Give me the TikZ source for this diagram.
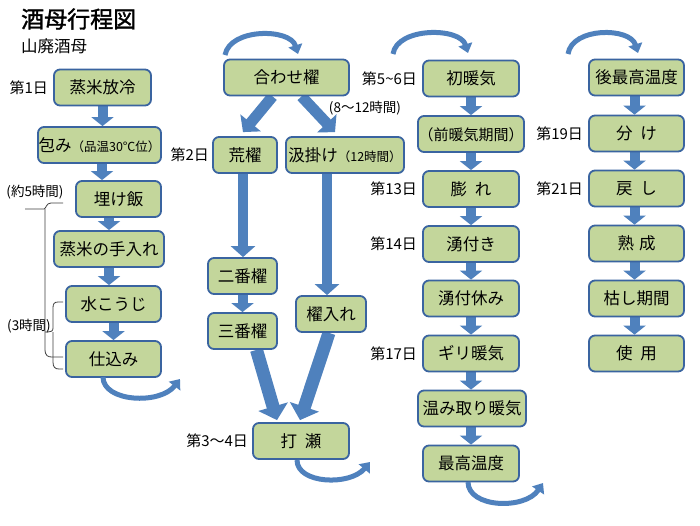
\documentclass[tikz,border=0pt]{standalone}
\usepackage{fontspec}
\setmainfont{Noto Sans CJK JP}
\newfontfamily\titlefont[FakeBold=1.5]{Noto Sans CJK JP}
\usetikzlibrary{arrows.meta,positioning,calc}
\definecolor{boxfill}{HTML}{C3D69B}
\definecolor{boxline}{HTML}{3A64A0}
\definecolor{arr}{HTML}{4F81BD}
\newcommand{\fsz}[1]{\fontsize{#1pt}{#1pt}\selectfont}
\pgfdeclarelayer{bg}
\pgfsetlayers{bg,main}
\begin{document}
\begin{tikzpicture}[x=1pt,y=-1pt,
  box/.style={draw=boxline, fill=boxfill, line width=1.8pt, rounded corners=6pt,
    minimum height=36pt, inner sep=0pt, font=\fsz{16.5}, text height=14pt, text depth=2pt},
  lab/.style={font=\fsz{15}, inner sep=0pt},
  note/.style={font=\fsz{13.5}, inner sep=0pt},
  sarrow/.style={draw=arr, line width=10pt, -{Triangle[width=22pt,length=9pt]}},
  larrow/.style={draw=arr, line width=10pt, -{Triangle[width=24pt,length=11pt]}},
  darrow/.style={draw=arr, line width=11pt, -{Triangle[width=26pt,length=12pt]}},
  barrow/.style={draw=arr, line width=13pt, -{Triangle[width=30pt,length=14pt]}},
  carrow/.style={draw=arr, line width=5pt, -{Triangle[width=14pt,length=9pt]}},
  bracket/.style={draw=black!75, line width=0.8pt},
]
\useasboundingbox (0,0) rectangle (700,525);

% titles
\node[anchor=west, inner sep=0pt, font=\fsz{23}\titlefont] (title) at (21,19) {酒母行程図};
\node[anchor=west, inner sep=0pt, font=\fsz{16.5}] (sub) at (21,46) {山廃酒母};

% column 1
\node[box, minimum width=97pt] (n1) at (102.5,87.5) {蒸米放冷};
\node[box, minimum width=123pt] (n2) at (99.5,145) {包み{\fsz{12.5}（品温30℃位）}};
\node[box, minimum width=85pt] (n3) at (118.5,199) {埋け飯};
\node[box, minimum width=110pt] (n4) at (109,249) {蒸米の手入れ};
\node[box, minimum width=95pt] (n5) at (113.5,304) {水こうじ};
\node[box, minimum width=95pt] (n6) at (113.5,359) {仕込み};

% column 2
\node[box, minimum width=125pt] (a) at (286.5,77.5) {合わせ櫂};
\node[box, minimum width=64pt] (b) at (245,155) {荒櫂};
\node[box, minimum width=118pt] (c) at (345,155) {汲掛け{\fsz{12.5}（12時間）}};
\node[box, minimum width=69pt] (d) at (242.5,276) {二番櫂};
\node[box, minimum width=69pt] (e) at (242.5,331) {三番櫂};
\node[box, minimum width=70pt] (f) at (331,314) {櫂入れ};
\node[box, minimum width=96pt] (g) at (301,441) {打\hspace{8pt}瀬};

% column 3
\node[box, minimum width=96pt] (p1) at (471,78.5) {初暖気};
\node[box, minimum width=106pt, font=\fsz{15}] (p2) at (471,134) {（前暖気期間）};
\node[box, minimum width=96pt] (p3) at (471,189) {膨\hspace{8pt}れ};
\node[box, minimum width=96pt] (p4) at (471,244) {湧付き};
\node[box, minimum width=96pt] (p5) at (471,298.5) {湧付休み};
\node[box, minimum width=96pt] (p6) at (471,353.5) {ギリ暖気};
\node[box, minimum width=108pt] (p7) at (472,408.5) {温み取り暖気};
\node[box, minimum width=96pt] (p8) at (471,463.5) {最高温度};

% column 4
\node[box, minimum width=95pt] (q1) at (636.5,77.5) {後最高温度};
\node[box, minimum width=95pt] (q2) at (636.5,133.5) {分\hspace{8pt}け};
\node[box, minimum width=95pt] (q3) at (636.5,188.5) {戻\hspace{8pt}し};
\node[box, minimum width=95pt] (q4) at (636.5,243.5) {熟\hspace{5pt}成};
\node[box, minimum width=95pt] (q5) at (636.5,298.5) {枯し期間};
\node[box, minimum width=95pt] (q6) at (636.5,353.5) {使\hspace{8pt}用};

% day labels
\node[lab, left=5pt of n1] (l1) {第1日};
\node[lab, left=3pt of b] (l2) {第2日};
\node[lab, left=4pt of g] (l3) {第3〜4日};
\node[lab, left=5pt of p1] (l4) {第5\textasciitilde 6日};
\node[lab, left=5pt of p3] (l5) {第13日};
\node[lab, left=5pt of p4] (l6) {第14日};
\node[lab, left=5pt of p6] (l7) {第17日};
\node[lab, left=5pt of q2] (l8) {第19日};
\node[lab, left=5pt of q3] (l9) {第21日};

% notes
\node[note] (t1) at (35,192) {(約5時間)};
\node[note] (t2) at (29,326) {(3時間)};
\node[note] (t3) at (365,108) {(8〜12時間)};

% brackets
\coordinate (br1a) at (63,203);
\coordinate (br1t) at (25,209);
\coordinate (br1b) at (63,357);
\draw[bracket] (br1a) -- (51,203) .. controls (46,203) and (46,209) .. (44,209) -- (br1t);
\draw[bracket] (45,209) -- (45,349) .. controls (45,356) and (48,357) .. (52,357) -- (br1b);
\coordinate (br2a) at (63,302);
\coordinate (br2t) at (45,332);
\coordinate (br2b) at (63,369);
\draw[bracket] (br2a) -- (58,302) .. controls (54,302) and (53,304) .. (53,308) -- (53,328)
  .. controls (53,331) and (52,332) .. (br2t);
\draw[bracket] (53,332) -- (53,362) .. controls (53,367) and (55,369) .. (59,369) -- (br2b);

% curved arrows
\coordinate (c1s) at (103,377); \coordinate (c1e) at (180,379);
\coordinate (c2s) at (225,55);  \coordinate (c2e) at (298,54);
\coordinate (c3s) at (297,460); \coordinate (c3e) at (370,462);
\coordinate (c4s) at (393,54);  \coordinate (c4e) at (468,53);
\coordinate (c5s) at (468,482); \coordinate (c5e) at (543,483);
\coordinate (c6s) at (568,54);  \coordinate (c6e) at (638,53);

\begin{pgfonlayer}{bg}
\fill[white] (0,0) rectangle (700,525);
% column 1 arrows
\draw[sarrow] (n1.south) -- (n1.south |- n2.north);
\draw[sarrow] ([xshift=2.5pt]n2.south) -- ([xshift=2.5pt]n2.south |- n3.north);
\draw[sarrow] (n4.north |- n3.south) -- (n4.north);
\draw[sarrow] (n4.south) -- (n4.south |- n5.north);
\draw[sarrow] (n5.south) -- (n5.south |- n6.north);
% column 2 arrows
\draw[darrow] ([xshift=-14pt]a.south) -- ([xshift=-2pt,yshift=4pt]b.north);
\draw[darrow] ([xshift=15pt]a.south) -- ([xshift=-10pt,yshift=4pt]c.north);
\draw[larrow] ([xshift=-2pt]b.south) -- ([xshift=-2pt]b.south |- d.north);
\draw[larrow] ([xshift=-4pt]f.north |- c.south) -- ([xshift=-4pt]f.north);
\draw[sarrow] (d.south) -- (d.south |- e.north);
\draw[barrow] ([xshift=14pt]e.south) -- ([xshift=-24pt,yshift=2pt]g.north);
\draw[barrow] ([xshift=-2pt]f.south) -- ([xshift=-1pt,yshift=2pt]g.north);
% column 3 arrows
\foreach \u/\v in {p1/p2,p2/p3,p3/p4,p4/p5,p5/p6,p6/p7,p7/p8}
  \draw[sarrow] (\u.south -| p1.south) -- (p1.south |- \v.north);
% column 4 arrows
\foreach \u/\v in {q1/q2,q2/q3,q3/q4,q4/q5,q5/q6}
  \draw[sarrow] ([xshift=-2pt]\u.south) -- ([xshift=-2pt]\u.south |- \v.north);
\end{pgfonlayer}

\draw[carrow] (c1s) .. controls (103,402) and (160,405) .. (c1e);
\draw[carrow] (c2s) .. controls (230,28) and (290,28) .. (c2e);
\draw[carrow] (c3s) .. controls (297,484) and (350,486) .. (c3e);
\draw[carrow] (c4s) .. controls (397,27) and (460,27) .. (c4e);
\draw[carrow] (c5s) .. controls (468,508) and (525,510) .. (c5e);
\draw[carrow] (c6s) .. controls (572,27) and (630,27) .. (c6e);
\end{tikzpicture}
\end{document}
